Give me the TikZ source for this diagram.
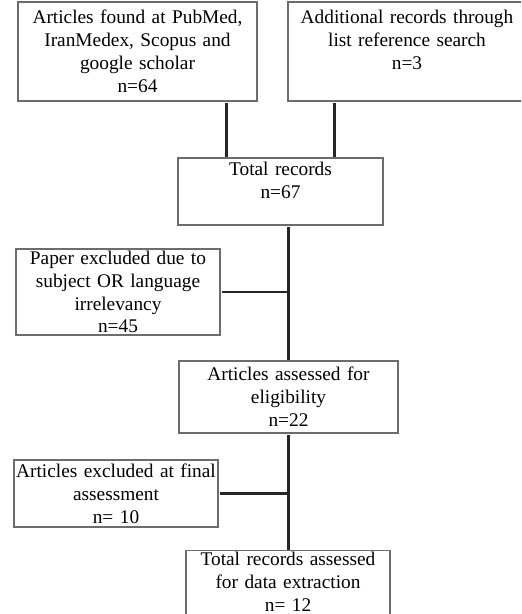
\documentclass[tikz,border=0pt]{standalone}
\usepackage{fontspec}
\setmainfont{Liberation Serif}
\usetikzlibrary{positioning,calc}
\hyphenpenalty=10000

\begin{document}
\begin{tikzpicture}[
    box/.style={draw=gray!85!black, line width=0.6pt, align=center, inner sep=1pt,
        font=\fontsize{11}{13}\selectfont},
    link/.style={line width=1.3pt, black!85, shorten <=1pt}
]
    \useasboundingbox (0,0) rectangle (10.42,-12.28);
    \clip (0,0) rectangle (10.42,-12.28);

    % Sources
    \node[box, minimum width=4.78cm, minimum height=1.98cm, text width=4.6cm] (found) at (2.75,-1.03)
        {Articles found at PubMed,\\ IranMedex, Scopus and\\ google scholar\\ n=64};
    \node[box, minimum width=4.76cm, minimum height=1.98cm, text width=4.6cm] (extra) at (8.14,-1.03)
        {Additional records through\\ list reference search\\ n=3\\ \mbox{}};

    % Screening chain
    \node[box, minimum width=4.10cm, minimum height=1.34cm, text width=3.9cm] (total) at (5.61,-3.83)
        {Total records\\ n=67\\ \mbox{}};
    \node[box, minimum width=4.38cm, minimum height=1.44cm, text width=4.2cm] (elig) at (5.77,-7.94)
        {Articles assessed for\\ eligibility\\ n=22};
    \node[box, minimum width=4.08cm, text width=3.95cm, anchor=north] (final) at (5.76,-11.0)
        {Total records assessed\\ for data extraction\\ n= 12\\ \mbox{}};

    % Exclusions
    \node[box, minimum width=4.08cm, minimum height=1.72cm, text width=3.95cm] (irrel) at (2.36,-5.84)
        {Paper excluded due to\\ subject OR language\\ irrelevancy\\ n=45};
    \node[box, minimum width=4.08cm, minimum height=1.34cm, text width=4.0cm] (excl) at (2.32,-9.87)
        {Articles excluded at final\\ assessment\\ n= 10};

    % Connectors
    \draw[link] ([xshift=-0.62cm]found.south east) -- ([xshift=-0.62cm]found.south east |- total.north);
    \draw[link] ([xshift=0.94cm]extra.south west) -- ([xshift=0.94cm]extra.south west |- total.north);
    \draw[link] (elig.north |- total.south) -- (elig.north);
    \draw[link] (irrel.east) -- (irrel.east -| elig.north);
    \draw[link] (elig.south) -- (elig.south |- final.north);
    \draw[link] (excl.east) -- (excl.east -| elig.south);
\end{tikzpicture}
\end{document}
